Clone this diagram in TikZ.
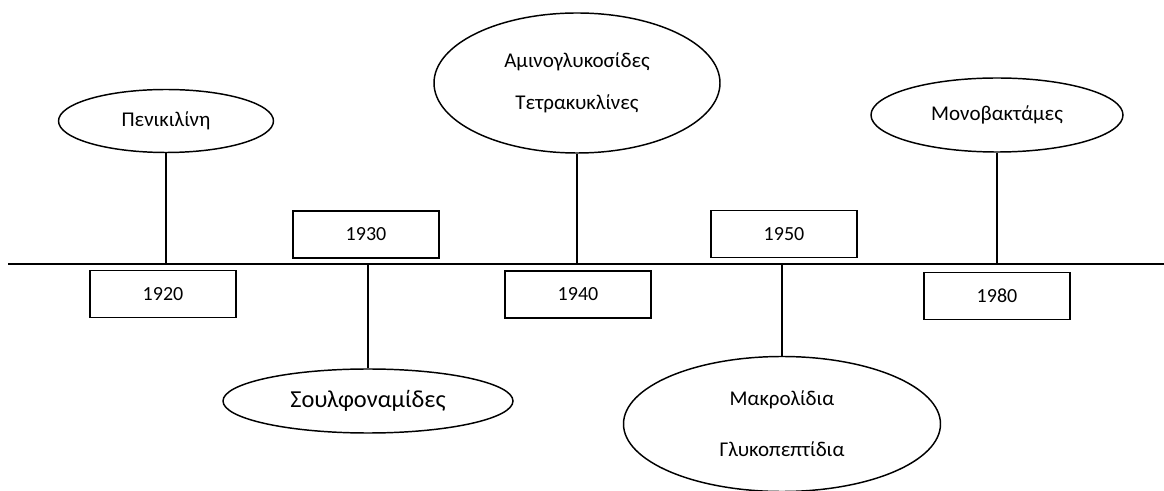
\documentclass[tikz,border=0pt]{standalone}
\usepackage{fontspec}
\setmainfont{Carlito}
\usepackage{tikz}
\usetikzlibrary{shapes.geometric}
\tikzstyle{yearbox} = [draw, rectangle, line width=1.3pt, inner sep=0pt, minimum width=109.5pt, minimum height=35.25pt, font=\fontsize{15}{18}\selectfont]
\tikzstyle{classoval} = [draw, ellipse, line width=1.1pt, inner sep=0pt, align=center]
\tikzstyle{stem} = [line width=1.1pt]

\begin{document}
\begin{tikzpicture}[x=0.75pt, y=-0.75pt, font=\fontsize{15.75}{18}\selectfont]
\useasboundingbox (0,0) rectangle (1164,491);

% Time axis
\coordinate (tstart) at (8,264);
\coordinate (tend) at (1164,264);
\draw[line width=1.5pt] (tstart) -- (tend);

% Decades
\node[yearbox] (y1920) at (163,294) {1920};
\node[yearbox] (y1930) at (366,234.5) {1930};
\node[yearbox] (y1940) at (578,294.5) {1940};
\node[yearbox] (y1950) at (784,234) {1950};
\node[yearbox] (y1980) at (997,296) {1980};

% Antibiotic classes
\node[classoval, minimum width=161.25pt, minimum height=47.25pt] (pen) at (166,121) {Πενικιλίνη};
\node[classoval, minimum width=217.5pt, minimum height=48pt, font=\fontsize{18.3}{22}\selectfont] (sulfa) at (368,401) {Σουλφοναμίδες};
\node[classoval, minimum width=214.5pt, minimum height=105pt] (amino) at (577,83) {Αμινογλυκοσίδες\\[13.5pt]Τετρακυκλίνες};
\node[classoval, minimum width=237.75pt, minimum height=101.25pt] (makro) at (782,424) {Μακρολίδια\\[20.25pt]Γλυκοπεπτίδια};
\node[classoval, minimum width=189pt, minimum height=55.5pt] (mono) at (997,115) {Μονοβακτάμες};

% Stems to the axis
\draw[stem] (pen.south) -- (pen.south |- tstart);
\draw[stem] (sulfa.north) -- (sulfa.north |- tstart);
\draw[stem] (amino.south) -- (amino.south |- tstart);
\draw[stem] (makro.north) -- (makro.north |- tstart);
\draw[stem] (mono.south) -- (mono.south |- tstart);
\end{tikzpicture}
\end{document}
